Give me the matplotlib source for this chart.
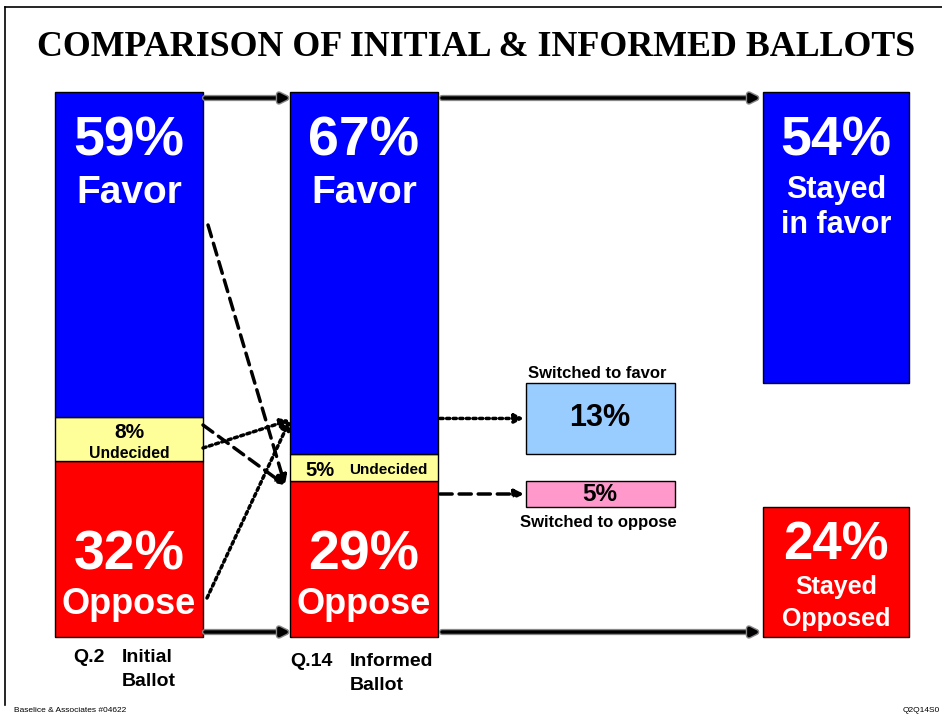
import matplotlib
matplotlib.use('Agg')
import matplotlib.pyplot as plt
from matplotlib import font_manager
from matplotlib.lines import Line2D
import matplotlib.patheffects as pe

# ballot shares (%), order: favor, undecided, oppose
segments = ['Favor', 'Undecided', 'Oppose']
initial = [59, 8, 32]
informed = [67, 5, 29]
stayed = [54, 24]      # stayed in favor, stayed opposed
switched = [13, 5]     # switched to favor, switched to oppose

BLUE, YELLOW, RED = '#0000FF', '#FFFF99', '#FF0000'
LTBLUE, PINK = '#99CCFF', '#FF99CC'

plt.rcParams['font.family'] = 'Liberation Sans'
plt.rcParams['font.weight'] = 'bold'
have = {f.name for f in font_manager.fontManager.ttflist}
NARROW = 'Liberation Sans Narrow' if 'Liberation Sans Narrow' in have else 'Liberation Sans'
nsize = 17 if NARROW == 'Liberation Sans Narrow' else 14

fig = plt.figure(figsize=(9.42, 7.15), dpi=100)
ax = fig.add_axes([0, 0, 1, 1])
PX = 5.45    # pixels per bar unit
BASE = 637   # pixel row of bar baseline
ax.set_xlim(0, 942)
ax.set_ylim(-(715 - BASE) / PX, BASE / PX)
ax.axis('off')


def Y(py):
    return (BASE - py) / PX


# frame
fig.add_artist(Line2D([5 / 942, 1], [1 - 7 / 715, 1 - 7 / 715], color='k', lw=1.2))
fig.add_artist(Line2D([5 / 942, 5 / 942], [1 - 7 / 715, 1 - 705 / 715], color='k', lw=1.2))

ax.text(476, Y(47), 'COMPARISON OF INITIAL & INFORMED BALLOTS', family='Liberation Serif',
        fontsize=25.8, ha='center', va='center')

W = 148
x1, x2, xs, x3 = 129, 364, 600, 836


def stack(x, vals):
    k = 100 / sum(vals)
    fav, und, opp = [v * k for v in vals]
    ax.bar(x, opp, W, bottom=0, color=RED, edgecolor='k', lw=1)
    ax.bar(x, und, W, bottom=opp, color=YELLOW, edgecolor='k', lw=1)
    ax.bar(x, fav, W, bottom=opp + und, color=BLUE, edgecolor='k', lw=1)
    return k, fav, und, opp


k1, fav1, und1, opp1 = stack(x1, initial)
k2, fav2, und2, opp2 = stack(x2, informed)

# final column
ax.bar(x3, stayed[0] * k2, 146, bottom=100 - stayed[0] * k2, color=BLUE, edgecolor='k', lw=1)
ax.bar(x3, stayed[1] * k2, 146, bottom=0, color=RED, edgecolor='k', lw=1)

# switched boxes
sf_bot = opp2 + und2
ax.bar(xs, switched[0] * k2, 149, bottom=sf_bot, color=LTBLUE, edgecolor='k', lw=1)
so_bot = opp2 - switched[1] * k2
ax.bar(xs, switched[1] * k2, 149, bottom=so_bot, color=PINK, edgecolor='k', lw=1)

# bar labels
ax.text(x1, Y(142), '%d%%' % initial[0], color='w', fontsize=40, ha='center', va='center')
ax.text(x1, Y(193), segments[0], color='w', fontsize=28, ha='center', va='center')
ax.text(x1, Y(433), '%d%%' % initial[1], color='k', fontsize=15, ha='center', va='center')
ax.text(x1, Y(453), segments[1], color='k', fontsize=11.3, ha='center', va='center')
ax.text(x1, Y(556), '%d%%' % initial[2], color='w', fontsize=40, ha='center', va='center')
ax.text(x1, Y(605), segments[2], color='w', fontsize=26, ha='center', va='center')

ax.text(x2, Y(142), '%d%%' % informed[0], color='w', fontsize=40, ha='center', va='center')
ax.text(x2, Y(193), segments[0], color='w', fontsize=28, ha='center', va='center')
ax.text(320, Y(470), '%d%%' % informed[1], color='k', fontsize=14.5, ha='center', va='center')
ax.text(388, Y(470), segments[1], color='k', fontsize=11, ha='center', va='center')
ax.text(x2, Y(556), '%d%%' % informed[2], color='w', fontsize=40, ha='center', va='center')
ax.text(x2, Y(605), segments[2], color='w', fontsize=26, ha='center', va='center')

ax.text(x3, Y(142), '%d%%' % stayed[0], color='w', fontsize=40, ha='center', va='center')
ax.text(x3, Y(190), 'Stayed', color='w', fontsize=22, ha='center', va='center')
ax.text(x3, Y(225), 'in favor', color='w', fontsize=22, ha='center', va='center')
ax.text(x3, Y(545), '%d%%' % stayed[1], color='w', fontsize=38, ha='center', va='center')
ax.text(x3, Y(587), 'Stayed', color='w', fontsize=18, ha='center', va='center')
ax.text(x3, Y(619), 'Opposed', color='w', fontsize=18, ha='center', va='center')

ax.text(xs - 3, Y(373), 'Switched to favor', fontsize=12, ha='center', va='center')
ax.text(xs, sf_bot + switched[0] * k2 / 2, '%d%%' % switched[0], fontsize=22, ha='center', va='center')
ax.text(xs, so_bot + switched[1] * k2 / 2, '%d%%' % switched[1], fontsize=17.5, ha='center', va='center')
ax.text(xs - 2, Y(523), 'Switched to oppose', fontsize=12, ha='center', va='center')

# axis-style captions
ax.text(73, Y(657), 'Q.2', family=NARROW, fontsize=nsize, va='center')
ax.text(122, Y(657), 'Initial', family=NARROW, fontsize=nsize, va='center')
ax.text(122, Y(682), 'Ballot', family=NARROW, fontsize=nsize, va='center')
ax.text(290, Y(662), 'Q.14', family=NARROW, fontsize=nsize, va='center')
ax.text(350, Y(661), 'Informed', family=NARROW, fontsize=nsize, va='center')
ax.text(350, Y(686), 'Ballot', family=NARROW, fontsize=nsize, va='center')

ax.text(14, Y(710), 'Baselice & Associates #04622', family=NARROW, fontsize=6, weight='normal', va='center')
ax.text(940, Y(710), 'Q2Q14S0', family=NARROW, fontsize=6, weight='normal', ha='right', va='center')


def arrow(p0, p1, style='-', lw=2.5, shade=False):
    props = dict(arrowstyle='-|>', lw=lw, color='k', linestyle=style,
                 mutation_scale=13, shrinkA=0, shrinkB=0)
    a = ax.annotate('', xy=p1, xytext=p0, arrowprops=props)
    if shade:
        a.arrow_patch.set_path_effects([pe.withStroke(linewidth=lw + 2, foreground='#888888')])


arrow((205, Y(98)), (290, Y(98)), shade=True)
arrow((442, Y(98)), (760, Y(98)), shade=True)
arrow((205, Y(632)), (290, Y(632)), shade=True)
arrow((442, Y(632)), (760, Y(632)), shade=True)

DASH = (0, (3.5, 2))
DOT = (0, (0.9, 1.0))
arrow((208, Y(225)), (285, Y(485)), DASH, 2.5)
arrow((203, Y(425)), (285, Y(485)), DASH, 2.5)
arrow((203, Y(448)), (290, Y(420)), DOT, 2.5)
arrow((207, Y(598)), (290, Y(420)), DOT, 2.5)
arrow((440, sf_bot + switched[0] * k2 / 2), (524, sf_bot + switched[0] * k2 / 2), DOT, 2.5)
arrow((440, so_bot + switched[1] * k2 / 2), (524, so_bot + switched[1] * k2 / 2), DASH, 2.5)

fig.savefig('out.png', dpi=100)
